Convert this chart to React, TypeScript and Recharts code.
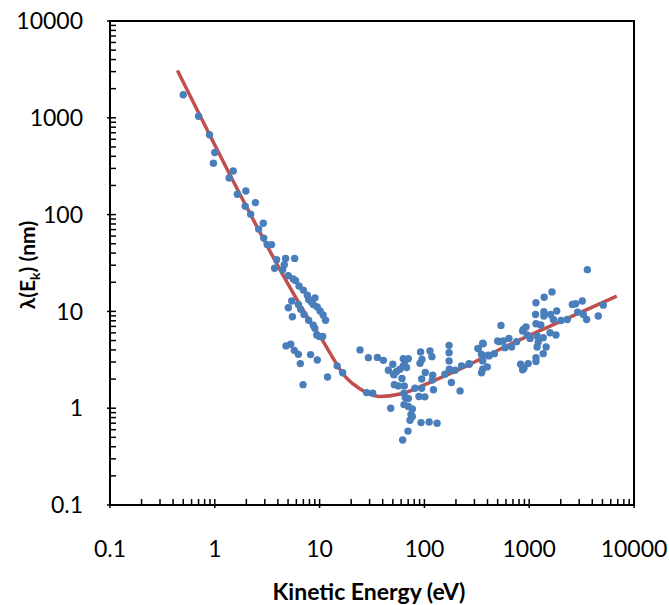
import React from 'react';
import { ScatterChart, Scatter, XAxis, YAxis, ReferenceArea } from 'recharts';

// measured points: kinetic energy (eV) and inelastic mean free path (nm)
const energy = [
  0.5, 0.7, 0.89, 1.0, 0.97, 1.5, 1.37, 1.64, 1.98, 2.44, 1.95,
  2.2, 2.9, 2.62, 2.93, 3.16, 3.48, 3.89, 4.74, 5.78, 3.72, 4.6, 4.44, 5.03, 5.61, 5.9,
  6.36, 7.0, 7.63, 7.86, 8.32, 9.04, 8.7, 9.5, 10.1, 10.8, 11.4, 5.42, 5.03, 5.5, 6.27,
  6.6, 7.1, 7.86, 8.7, 9.0, 9.4, 9.95, 10.7, 4.78, 5.3, 5.74, 6.27, 6.55, 8.2, 9.5,
  6.95, 11.9, 24.3, 29.2, 35.6, 14.7, 16.6, 28.1, 32.1,
  40.6, 45.3, 49.9, 51.3, 54.3, 58.5, 62.9, 65.3, 70.2, 62.9, 67.6, 61.1, 51.6, 56.3,
  64.3, 63.8, 65.8, 70.2, 63.8, 70.2, 76.7, 74.5, 76.7, 72.9, 47.7, 92.9, 111, 132,
  69.7, 62.0, 81.3, 88.8, 101, 94.2, 94.2, 102, 120, 119, 122, 92, 90.8, 94.8, 113, 118,
  172, 172, 172, 173, 157, 181, 196, 219, 226, 268, 327, 360, 351, 360, 360, 351, 398,
  414, 465, 500,
  3590, 1650, 1390, 1160, 1150, 1380, 1380, 1600, 1830, 1700, 2010, 2310, 2580, 2770,
  3210, 2900, 3280, 3530, 4560, 5090, 1160, 1290, 880, 932, 865, 957, 1020, 1190, 1360,
  1580, 1800, 1220, 1190, 1450, 1360, 1160, 1160, 977, 828, 891, 865, 538, 519, 566, 641,
  588, 679, 758, 324, 364, 355, 407, 267, 50.7,
];
const lambda = [
  1730, 1037, 667, 438, 340, 282, 239, 162, 175, 133, 122,
  101, 81.5, 70.8, 57.2, 49, 49, 34.2, 35.3, 35.3, 27.9, 30.4, 27, 23.4, 21.6, 20.8,
  18.3, 16.6, 14.7, 13.3, 12.6, 13.8, 11.8, 11.1, 10.1, 9.2, 8.1, 12.8, 10.9, 8.8, 11.8,
  10.5, 9.3, 8.1, 7.2, 6.7, 5.7, 5.5, 5.5, 4.4, 4.57, 3.96, 3.6, 2.89, 3.58, 3.15,
  1.75, 2.1, 4.0, 3.33, 3.35, 2.74, 2.32, 1.45, 1.43,
  3.12, 2.47, 2.84, 2.21, 2.39, 2.53, 2.74, 3.08, 3.25, 3.25, 2.63, 2.03, 1.75, 1.7,
  1.7, 1.43, 1.29, 1.26, 1.09, 1.04, 0.98, 0.86, 0.82, 0.75, 1.0, 0.71, 0.72, 0.7,
  0.58, 0.47, 1.61, 1.32, 1.31, 1.61, 2.0, 2.34, 2.19, 1.95, 1.55, 3.81, 2.91, 3.18, 3.91, 3.41,
  4.46, 3.75, 3.08, 2.53, 2.24, 1.84, 2.47, 1.51, 2.74, 2.84, 4.12, 4.68, 3.6, 3.08, 2.53, 2.32, 2.67,
  3.47, 3.66, 4.95,
  27, 15.9, 14.0, 12.3, 9.3, 9.9, 8.95, 9.3, 10.1, 8.25, 8.06, 8.25, 11.8, 12.0,
  12.8, 9.84, 9.3, 8.25, 8.95, 11.6, 7.45, 7.23, 6.51, 6.89, 6.27, 5.7, 5.26, 5.57, 5.35,
  6.02, 5.7, 4.83, 4.29, 4.29, 3.66, 3.33, 3.03, 2.89, 2.84, 2.59, 2.5, 7.17, 4.87, 4.95, 5.26,
  4.22, 4.29, 4.87, 4.15, 4.64, 3.53, 3.53, 2.89, 2.24,
];

// universal curve
const curveEnergy = [0.44, 1.9, 4.19, 8.7, 10.1, 14.6, 16.8, 21, 28, 37.7, 58.5, 122, 253, 526, 1580, 6850];
const curveLambda = [3080, 135, 27, 7.0, 5.5, 2.84, 2.24, 1.77, 1.45, 1.32, 1.4, 1.92, 2.74, 4.06, 7.06, 14.4];

const majorTicks = [0.1, 1, 10, 100, 1000, 10000];

const points = energy.map((x, i) => ({ x, y: lambda[i] }));
const curve = curveEnergy.map((x, i) => ({ x, y: curveLambda[i] }));

const allTicks: number[] = [];
majorTicks.forEach((d, i) => {
  allTicks.push(d);
  if (i < majorTicks.length - 1) {
    for (let k = 2; k <= 9; k++) allTicks.push(Number((d * k).toPrecision(3)));
  }
});

const font = 'Lato, "Open Sans", sans-serif';

const XTick = (props: any) => {
  const { x, y, payload } = props;
  const major = majorTicks.includes(payload.value);
  return (
    <g>
      <line x1={x} x2={x} y1={y - 6} y2={major ? y + 3 : y} stroke="#000" strokeWidth={1.5} />
      {major && (
        <text x={x} y={y + 52} textAnchor="middle" fontSize={23} fontFamily={font} fill="#000">
          {String(payload.value)}
        </text>
      )}
    </g>
  );
};

const YTick = (props: any) => {
  const { x, y, payload } = props;
  const major = majorTicks.includes(payload.value);
  return (
    <g>
      <line x1={major ? x - 3 : x} x2={x + 6} y1={y} y2={y} stroke="#000" strokeWidth={1.5} />
      {major && (
        <text x={x - 27} y={y} dy="0.36em" textAnchor="end" fontSize={23} fontFamily={font} fill="#000">
          {String(payload.value)}
        </text>
      )}
    </g>
  );
};

const Dot = (props: any) => <circle cx={props.cx} cy={props.cy} r={3.7} fill="#4A7EBB" />;
const NoDot = () => <g />;

export default function App() {
  return (
    <div style={{ width: 669, height: 605 }}>
      <style>{`body{margin:0}`}</style>
      <ScatterChart width={669} height={605} margin={{ top: 21, right: 35, bottom: 40, left: 50 }}>
        <XAxis
          dataKey="x"
          type="number"
          scale="log"
          domain={[0.1, 10000]}
          allowDataOverflow
          ticks={allTicks}
          interval={0}
          height={60}
          tickSize={0}
          tickMargin={0}
          axisLine={{ stroke: '#000', strokeWidth: 2 }}
          tickLine={false}
          tick={<XTick />}
        />
        <YAxis
          dataKey="y"
          type="number"
          scale="log"
          domain={[0.1, 10000]}
          allowDataOverflow
          ticks={allTicks}
          interval={0}
          width={60}
          tickSize={0}
          tickMargin={0}
          axisLine={{ stroke: '#000', strokeWidth: 2 }}
          tickLine={false}
          tick={<YTick />}
        />
        <ReferenceArea x1={0.1} x2={10000} y1={0.1} y2={10000} fill="none" stroke="#000" strokeWidth={2} />
        <Scatter
          data={curve}
          line={{ stroke: '#C0504D', strokeWidth: 3.5 }}
          lineJointType="monotoneX"
          shape={<NoDot />}
          isAnimationActive={false}
        />
        <Scatter data={points} shape={<Dot />} isAnimationActive={false} />
      </ScatterChart>
      <svg width={669} height={605} style={{ position: 'absolute', left: 0, top: 0, pointerEvents: 'none' }}>
        <text x={369} y={600} textAnchor="middle" fontSize={23} fontWeight="bold" fontFamily={font} fill="#000">
          Kinetic Energy (eV)
        </text>
        <text transform="translate(35,265) rotate(-90)" textAnchor="middle" fontSize={21} fontWeight="bold" fontFamily={font} fill="#000">
          λ(E<tspan dy={5} fontSize={14}>k</tspan><tspan dy={-5}>) (nm)</tspan>
        </text>
      </svg>
    </div>
  );
}
